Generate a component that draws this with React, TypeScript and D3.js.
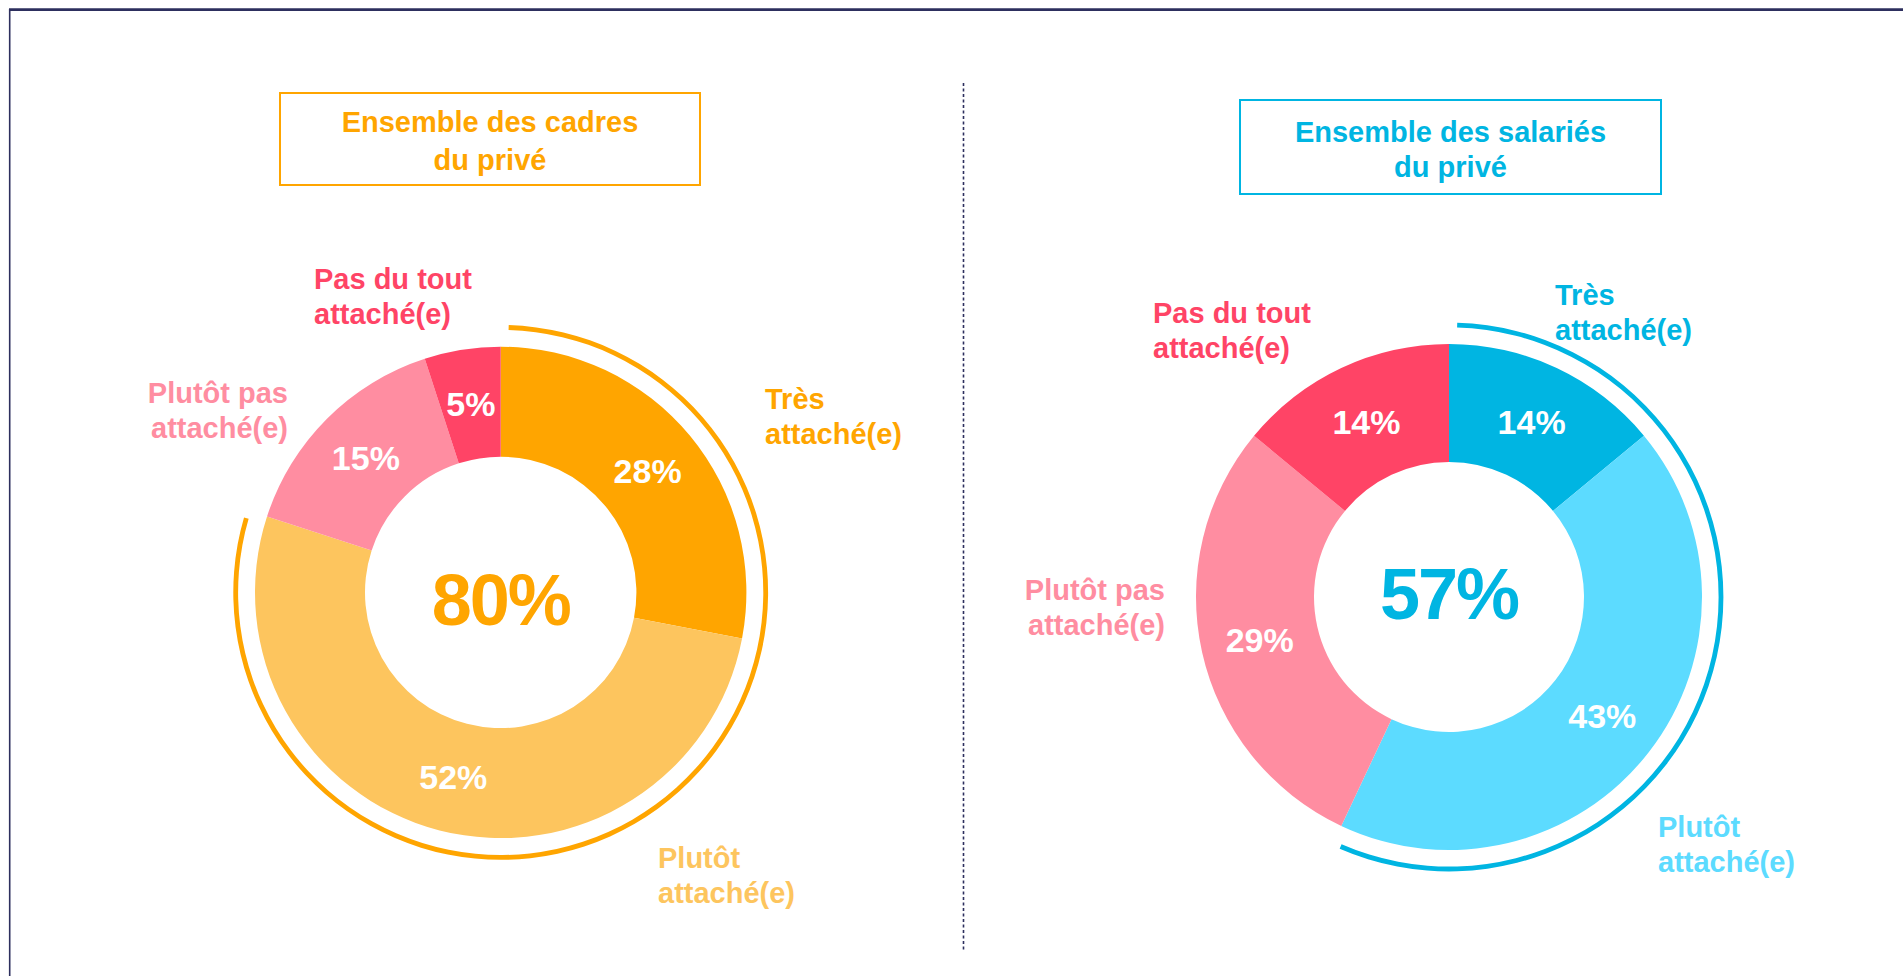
import React from "react";
import * as d3 from "d3";

// ---- Data ----
const CATEGORIES = [
  "Très attaché(e)",
  "Plutôt attaché(e)",
  "Plutôt pas attaché(e)",
  "Pas du tout attaché(e)",
];
const CADRES_VALUES = [28, 52, 15, 5];
const SALARIES_VALUES = [14, 43, 29, 14];
const CADRES_TITLE = ["Ensemble des cadres", "du privé"];
const SALARIES_TITLE = ["Ensemble des salariés", "du privé"];
const CADRES_COLORS = ["#FFA500", "#FDC55E", "#FF8DA1", "#FF4466"];
const SALARIES_COLORS = ["#00B5E2", "#5CDBFF", "#FF8DA1", "#FF4466"];
const CADRES_ACCENT = "#FFA500";
const SALARIES_ACCENT = "#00B5E2";

// ---- Layout ----
const W = 1903;
const H = 976;
const FONT = "'Liberation Sans', Arial, sans-serif";
const FRAME = "#2D2F5E";

type LabelPos = { x: number; y: number; anchor: "start" | "end" | "middle" };
type ChartLayout = {
  cx: number;
  cy: number;
  rOuter: number;
  rInner: number;
  ringR: number;
  box: { x: number; y: number; w: number; h: number };
  titleBaselines: number[];
  centerBaseline: number;
  labels: LabelPos[];
};

const LEFT_LAYOUT: ChartLayout = {
  cx: 500.7,
  cy: 592.4,
  rOuter: 245.7,
  rInner: 135.7,
  ringR: 265,
  box: { x: 280, y: 93, w: 420, h: 92 },
  titleBaselines: [132, 170],
  centerBaseline: 625,
  labels: [
    { x: 765, y: 409, anchor: "start" },
    { x: 658, y: 868, anchor: "start" },
    { x: 288, y: 403, anchor: "end" },
    { x: 314, y: 289, anchor: "start" },
  ],
};

const RIGHT_LAYOUT: ChartLayout = {
  cx: 1449,
  cy: 597,
  rOuter: 253,
  rInner: 135,
  ringR: 272,
  box: { x: 1240, y: 100, w: 421, h: 94 },
  titleBaselines: [141.5, 176.5],
  centerBaseline: 619,
  labels: [
    { x: 1555, y: 304.5, anchor: "start" },
    { x: 1658, y: 837, anchor: "start" },
    { x: 1165, y: 600, anchor: "end" },
    { x: 1153, y: 323, anchor: "start" },
  ],
};

function splitLabel(s: string): string[] {
  const i = s.lastIndexOf(" ");
  return [s.slice(0, i), s.slice(i + 1)];
}

function Donut({
  values,
  colors,
  accent,
  title,
  layout,
}: {
  values: number[];
  colors: string[];
  accent: string;
  title: string[];
  layout: ChartLayout;
}) {
  const pie = d3
    .pie<number>()
    .sort(null)
    .value((d) => d)
    .startAngle(0)
    .endAngle(2 * Math.PI);
  const arcs = pie(values);
  const arc = d3
    .arc<d3.PieArcDatum<number>>()
    .innerRadius(layout.rInner)
    .outerRadius(layout.rOuter);

  const total = d3.sum(values);
  const attached = values[0] + values[1];
  const ringEnd = (attached / total) * 2 * Math.PI;
  const pad = 0.03;
  const ringPath =
    d3.arc()({
      innerRadius: layout.ringR - 2.4,
      outerRadius: layout.ringR + 2.4,
      startAngle: pad,
      endAngle: ringEnd - pad,
    } as any) || "";

  const sliceFont = 34;
  const labelFont = 29;
  const lineGap = 35;

  return (
    <g>
      {/* title box */}
      <rect
        x={layout.box.x}
        y={layout.box.y}
        width={layout.box.w}
        height={layout.box.h}
        fill="white"
        stroke={accent}
        strokeWidth={2}
      />
      {title.map((t, i) => (
        <text
          key={i}
          x={layout.box.x + layout.box.w / 2}
          y={layout.titleBaselines[i]}
          textAnchor="middle"
          fontFamily={FONT}
          fontWeight="bold"
          fontSize={29}
          fill={accent}
        >
          {t}
        </text>
      ))}

      <g transform={`translate(${layout.cx},${layout.cy})`}>
        {arcs.map((a, i) => (
          <path key={i} d={arc(a) || ""} fill={colors[i]} />
        ))}
        <path d={ringPath} fill={accent} />
        {arcs.map((a, i) => {
          const [x, y] = arc.centroid(a);
          return (
            <text
              key={"v" + i}
              x={x}
              y={y + sliceFont * 0.36}
              textAnchor="middle"
              fontFamily={FONT}
              fontWeight="bold"
              fontSize={sliceFont}
              fill="white"
            >
              {values[i]}%
            </text>
          );
        })}
        <text
          x={0}
          y={layout.centerBaseline - layout.cy}
          textAnchor="middle"
          fontFamily={FONT}
          fontWeight="bold"
          fontSize={72}
          letterSpacing={-2}
          fill={accent}
        >
          {attached}%
        </text>
      </g>

      {CATEGORIES.map((c, i) => {
        const lines = splitLabel(c);
        const p = layout.labels[i];
        return (
          <text
            key={"c" + i}
            textAnchor={p.anchor}
            fontFamily={FONT}
            fontWeight="bold"
            fontSize={labelFont}
            fill={colors[i]}
          >
            {lines.map((l, j) => (
              <tspan key={j} x={p.x} y={p.y + j * lineGap}>
                {l}
              </tspan>
            ))}
          </text>
        );
      })}
    </g>
  );
}

export default function App() {
  return (
    <svg
      width={W}
      height={H}
      style={{ position: "absolute", left: 0, top: 0, background: "white" }}
    >
      <rect x={0} y={0} width={W} height={H} fill="white" />
      {/* frame */}
      <line x1={9} y1={9.7} x2={W} y2={9.7} stroke={FRAME} strokeWidth={2.8} />
      <line x1={9.7} y1={9} x2={9.7} y2={H} stroke={FRAME} strokeWidth={1.6} />
      {/* divider */}
      <line
        x1={963.5}
        y1={83}
        x2={963.5}
        y2={950}
        stroke={FRAME}
        strokeWidth={1.6}
        strokeDasharray="3,2.5"
      />
      <Donut
        values={CADRES_VALUES}
        colors={CADRES_COLORS}
        accent={CADRES_ACCENT}
        title={CADRES_TITLE}
        layout={LEFT_LAYOUT}
      />
      <Donut
        values={SALARIES_VALUES}
        colors={SALARIES_COLORS}
        accent={SALARIES_ACCENT}
        title={SALARIES_TITLE}
        layout={RIGHT_LAYOUT}
      />
    </svg>
  );
}
